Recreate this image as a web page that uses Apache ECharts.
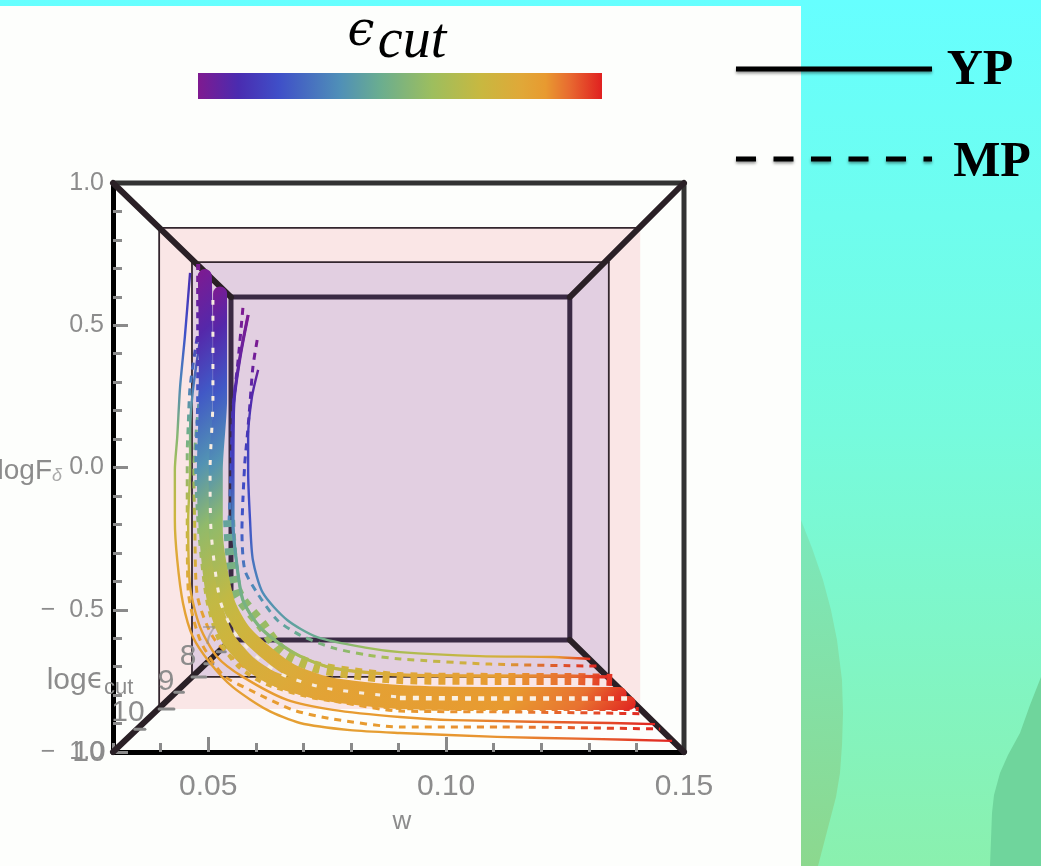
<!DOCTYPE html>
<html><head><meta charset="utf-8">
<style>html,body{margin:0;padding:0;background:#fff}#c{width:1041px;height:866px}</style>
<script src="https://cdn.jsdelivr.net/npm/echarts@6/dist/echarts.min.js"></script>
</head><body><div id="c"></div>
<script>
// Colour scale of the epsilon_cut legend: [position, colour]
const epsScale = [[0,'#7f1a90'],[0.1,'#4a2cb0'],[0.2,'#3f4fc8'],[0.35,'#4f8fb8'],[0.45,'#6aad90'],[0.58,'#9dbe5e'],[0.7,'#c8b840'],[0.8,'#e0a838'],[0.86,'#e89a30'],[0.92,'#e86a30'],[1,'#e02020']];

// Box edges [w1, logF1, w2, logF2]
const frontEdges = [[0.03,1,0.15,1],[0.15,1,0.15,-1]];
const diagonalEdges = [[0.03,1,0.0548,0.599],[0.15,1,0.126,0.599],[0.03,-1,0.0548,-0.606],[0.15,-1,0.126,-0.606]];
const backEdges = [[0.0548,0.599,0.126,0.599],[0.126,0.599,0.126,-0.606],[0.126,-0.606,0.0548,-0.606],[0.0548,-0.606,0.0548,0.599]];
const thinEdges = [[0.0397,0.842,0.1408,0.842],[0.0397,0.842,0.0397,-0.849],[0.0466,0.722,0.1342,0.722],[0.1342,0.722,0.1342,-0.736],[0.1342,-0.736,0.0466,-0.736],[0.0466,-0.736,0.0466,0.722]];
const epsTicks = [[0.0346,-0.92,0.0367,-0.92],[0.0397,-0.849,0.0428,-0.849],[0.043,-0.79,0.0448,-0.79],[0.0466,-0.736,0.0495,-0.736],[0.0493,-0.69,0.051,-0.69],[0.0519,-0.648,0.0536,-0.648]];
const pinkFace = [[0.0397,0.842,0.1408,-0.849]];
const mauveFace = [[0.0466,0.722,0.1342,-0.736]];

// Curves: [w, logF, epsilon position on the legend]
const yp1 = [[0.0605,0.343,0.03],[0.0592,0.248,0.08],[0.0584,0.107,0.15],[0.0584,-0.009,0.17],[0.0588,-0.185,0.2],[0.0594,-0.325,0.28],[0.0615,-0.441,0.34],[0.0666,-0.536,0.4],[0.0729,-0.596,0.45],[0.0834,-0.634,0.58],[0.0903,-0.649,0.62],[0.1071,-0.663,0.72],[0.1225,-0.666,0.86],[0.1303,-0.673,1]];
const mp1 = [[0.0603,0.448,0],[0.0594,0.353,0.03],[0.0588,0.227,0.08],[0.0582,0.107,0.13],[0.0577,0.016,0.17],[0.0573,-0.114,0.2],[0.0571,-0.22,0.22],[0.0577,-0.36,0.3],[0.0603,-0.441,0.35],[0.0645,-0.536,0.4],[0.0693,-0.589,0.45],[0.0762,-0.634,0.52],[0.0834,-0.659,0.58],[0.0903,-0.673,0.64],[0.1092,-0.691,0.78],[0.1317,-0.698,1]];
const mp2 = [[0.0573,0.561,0],[0.0563,0.378,0.05],[0.0552,0.202,0.12],[0.0548,-0.009,0.2],[0.0544,-0.185,0.34]];
const yp2 = [[0.0584,0.536,0],[0.0567,0.388,0.04],[0.0554,0.227,0.1],[0.0552,-0.009,0.16],[0.0552,-0.185,0.32],[0.0559,-0.325,0.42],[0.0573,-0.466,0.48],[0.0605,-0.554,0.5],[0.0645,-0.613,0.52],[0.0693,-0.663,0.6],[0.0762,-0.705,0.68],[0.0903,-0.729,0.8],[0.1113,-0.733,0.85],[0.126,-0.733,0.92],[0.134,-0.736,1]];
const ladder = [[0.0544,-0.185,0.4],[0.0559,-0.431,0.5],[0.0613,-0.554,0.56],[0.0657,-0.649,0.6],[0.0727,-0.701,0.68],[0.0798,-0.722,0.74],[0.0903,-0.74,0.8],[0.1113,-0.743,0.86],[0.126,-0.743,0.92],[0.1349,-0.747,1]];
const massInner = [[0.0525,0.612,0],[0.0525,0.448,0.08],[0.0525,0.237,0.22],[0.0516,-0.009,0.36],[0.0516,-0.22,0.55],[0.054,-0.466,0.68],[0.0573,-0.571,0.72],[0.0626,-0.656,0.76],[0.0676,-0.715,0.78],[0.0754,-0.761,0.82],[0.0903,-0.789,0.84],[0.1113,-0.796,0.86],[0.126,-0.796,0.91],[0.1365,-0.796,1]];
const massOuter = [[0.0493,0.673,0],[0.0495,0.448,0.08],[0.0495,0.237,0.22],[0.0491,-0.009,0.36],[0.0495,-0.22,0.55],[0.0512,-0.466,0.68],[0.054,-0.596,0.72],[0.0586,-0.687,0.76],[0.064,-0.744,0.78],[0.0737,-0.793,0.82],[0.0903,-0.824,0.84],[0.1113,-0.828,0.86],[0.126,-0.828,0.91],[0.1384,-0.828,1]];
const massEdge = [[0.0479,0.715,0],[0.0479,0.448,0.08],[0.0479,0.237,0.22],[0.0475,-0.009,0.36],[0.0481,-0.22,0.55],[0.0498,-0.466,0.68],[0.0523,-0.606,0.72],[0.0565,-0.701,0.76],[0.0622,-0.761,0.78],[0.0727,-0.81,0.82],[0.0903,-0.845,0.84],[0.1113,-0.849,0.86],[0.126,-0.849,0.91],[0.1405,-0.849,1]];
const seamBend = [[0.051,0.589,0],[0.051,0.237,0],[0.0504,-0.009,0],[0.0506,-0.22,0],[0.0525,-0.466,0],[0.0556,-0.582,0],[0.0605,-0.67,0],[0.0657,-0.729,0],[0.0746,-0.775,0],[0.0903,-0.807,0]];
const seamFlat = [[0.0903,-0.81,0],[0.1113,-0.812,0],[0.126,-0.812,0],[0.1387,-0.812,0]];
const yp3 = [[0.0483,0.448,0.12],[0.0468,0.272,0.3],[0.0462,0.132,0.45],[0.0462,-0.009,0.58],[0.0458,-0.185,0.68],[0.0462,-0.42,0.8],[0.0483,-0.561,0.84],[0.0519,-0.666,0.85],[0.0573,-0.736,0.85],[0.0666,-0.817,0.85],[0.0762,-0.852,0.85],[0.0903,-0.877,0.86],[0.1015,-0.888,0.87],[0.1345,-0.898,0.96],[0.1439,-0.902,1]];
const mp3 = [[0.0477,0.459,0.12],[0.0462,0.283,0.3],[0.0458,0.142,0.44],[0.0456,0.051,0.5],[0.0456,-0.185,0.68],[0.0458,-0.431,0.8],[0.0483,-0.606,0.84],[0.0531,-0.729,0.85],[0.0588,-0.782,0.85],[0.0678,-0.852,0.85],[0.0762,-0.884,0.85],[0.0903,-0.912,0.86],[0.1113,-0.912,0.88],[0.145,-0.919,1]];
const mp4 = [[0.0489,0.36,0.2],[0.0477,0.167,0.42],[0.047,-0.009,0.55],[0.0472,-0.22,0.7],[0.0477,-0.448,0.82],[0.051,-0.596,0.84],[0.0567,-0.691,0.85],[0.0651,-0.772,0.85],[0.0777,-0.824,0.85],[0.0903,-0.856,0.86],[0.1113,-0.859,0.88],[0.1324,-0.863,0.96],[0.1418,-0.866,1]];
const yp4 = [[0.0462,0.684,0.1],[0.0451,0.459,0.2],[0.0441,0.283,0.33],[0.0435,0.107,0.52],[0.043,-0.009,0.6],[0.043,-0.185,0.72],[0.0435,-0.325,0.8],[0.0447,-0.476,0.82],[0.0468,-0.596,0.84],[0.0504,-0.687,0.84],[0.0552,-0.772,0.84],[0.0624,-0.852,0.84],[0.0693,-0.898,0.84],[0.0798,-0.923,0.84],[0.0903,-0.933,0.85],[0.1107,-0.947,0.87],[0.1303,-0.954,0.93],[0.1475,-0.961,1]];

const solidThin = [yp1, yp2, yp3, yp4];
const dashedThin = [mp1, mp2, mp3, mp4];

// Ticks and tick labels
const wLabels = [0.05, 0.10, 0.15];
const logFLabels = [-1, -0.5, 0, 0.5, 1];
const epsAxisLabels = ['7','8','9','10','10'];

const GRID = {left:113, top:183, right:357, bottom:114, width:571, height:569};
const W = {min:0.03, max:0.15}, F = {min:-1, max:1};
const pxW = GRID.width/(W.max-W.min), pxF = GRID.height/(F.max-F.min);

function hex(c){return [1,3,5].map(i=>parseInt(c.substr(i,2),16));}
function colorAt(t){
  for(let i=1;i<epsScale.length;i++){
    if(t<=epsScale[i][0]){
      const a=epsScale[i-1],b=epsScale[i],k=(t-a[0])/(b[0]-a[0]);
      const ca=hex(a[1]),cb=hex(b[1]);
      return 'rgb('+ca.map((v,j)=>Math.round(v+(cb[j]-v)*k)).join(',')+')';
    }
  }
  return epsScale[epsScale.length-1][1];
}
function curveSeries(points,width,dash,fixedColor,z,cap){
  const ws=points.map(p=>p[0]),fs=points.map(p=>p[1]);
  const x0=Math.min(...ws),x1=Math.max(...ws),y1=Math.max(...fs),y0=Math.min(...fs);
  const bw=(x1-x0)*pxW,bh=(y1-y0)*pxF;
  const stops=points.map(p=>{
    const dx=(p[0]-x0)*pxW,dy=(y1-p[1])*pxF;
    return {offset:Math.min(1,Math.max(0,(dx*bw+dy*bh)/(bw*bw+bh*bh))),color:colorAt(p[2])};
  }).sort((a,b)=>a.offset-b.offset);
  return {type:'line',data:points.map(p=>[p[0],p[1]]),showSymbol:false,symbol:'none',smooth:0.25,clip:false,silent:true,z:z||5,
    lineStyle:{width:width,type:dash||'solid',cap:cap||'butt',join:'round',
      color:fixedColor||{type:'linear',x:0,y:0,x2:1,y2:1,colorStops:stops}}};
}
function edgeSeries(list,width,color,z){
  return {type:'custom',coordinateSystem:'cartesian2d',data:list,silent:true,z:z||3,clip:false,
    renderItem:(p,api)=>{
      const a=api.coord([api.value(0),api.value(1)]),b=api.coord([api.value(2),api.value(3)]);
      return {type:'line',shape:{x1:a[0],y1:a[1],x2:b[0],y2:b[1]},style:{stroke:color,lineWidth:width,lineCap:'round'}};
    }};
}
function faceSeries(list,fill,z){
  return {type:'custom',coordinateSystem:'cartesian2d',data:list,silent:true,z:z,clip:false,
    renderItem:(p,api)=>{
      const a=api.coord([api.value(0),api.value(1)]),b=api.coord([api.value(2),api.value(3)]);
      return {type:'rect',shape:{x:a[0],y:a[1],width:b[0]-a[0],height:b[1]-a[1]},style:{fill:fill}};
    }};
}
const series=[
  faceSeries(pinkFace,'#fae6e6',1),
  faceSeries(mauveFace,'#e2cfe1',2),
  edgeSeries(thinEdges,1.8,'#33262e',3),
  edgeSeries(frontEdges,5,'#333333',3),
  edgeSeries(backEdges,5,'#3a2a44',3),
  edgeSeries(diagonalEdges,6,'#2a2026',3),
  edgeSeries(epsTicks,3,'#8a8a8a',3)
];
solidThin.forEach(c=>series.push(curveSeries(c,2.4)));
dashedThin.forEach(c=>series.push(curveSeries(c,3,[7,6])));
series.push(curveSeries(ladder,12,[7,7]));
series.push(curveSeries(yp2,3.2));
series.push(curveSeries(massEdge,4,[6,6]));
series.push(curveSeries(massOuter,14,null,null,5,'round'));
series.push(curveSeries(massInner,14,null,null,5,'round'));
series.push(curveSeries(seamBend,3,[5,11],'#f7ecdf',6));
series.push(curveSeries(seamFlat,4.5,[6,7],'#fbf1e4',6));

const grey='#8c8c8c', font='Liberation Sans';
const text=(x,y,t,size,extra)=>Object.assign({type:'text',x:x,y:y,z:20,silent:true,
  style:Object.assign({text:t,fill:grey,font:size+'px "'+font+'"',textAlign:'center',textVerticalAlign:'middle'},extra||{})});

const graphic=[
  {type:'rect',z:-10,silent:true,shape:{x:0,y:0,width:1041,height:866},
    style:{fill:{type:'linear',x:0,y:0,x2:0,y2:1,colorStops:[{offset:0,color:'#66ffff'},{offset:0.5,color:'#76fbdd'},{offset:1,color:'#8af0ae'}]}}},
  {type:'polygon',z:-9,silent:true,shape:{points:[[801,520],[812,548],[823,580],[831,610],[837,640],[842,680],[843,713],[842,745],[840,773],[836,797],[830,820],[818,866],[801,866]]},
    style:{fill:{type:'linear',x:0,y:0,x2:0,y2:1,colorStops:[{offset:0,color:'#7be8bc'},{offset:1,color:'#8cd88e'}]}}},
  {type:'polygon',z:-9,silent:true,shape:{points:[[1041,677],[1030,705],[1020,733],[1008,755],[1000,773],[994,795],[992,813],[990,866],[1041,866]]},
    style:{fill:'#6fd59c'}},
  {type:'rect',z:-8,silent:true,shape:{x:0,y:6,width:801,height:860},style:{fill:'#fdfefc'}},
  // colour legend
  text(361,33,'ϵ',48,{fill:'#000',font:'italic 48px "DejaVu Serif"'}),
  text(412,42,'cut',56,{fill:'#000',font:'italic 56px "Liberation Serif"'}),
  {type:'rect',z:20,silent:true,shape:{x:198,y:73,width:404,height:26},
    style:{fill:{type:'linear',x:0,y:0,x2:1,y2:0,colorStops:epsScale.map(s=>({offset:s[0],color:s[1]}))}}},
  // line-style legend
  {type:'line',z:20,silent:true,shape:{x1:736,y1:69,x2:932,y2:69},style:{stroke:'#000',lineWidth:5,shadowBlur:3,shadowColor:'rgba(0,0,0,0.4)',shadowOffsetY:2}},
  {type:'line',z:20,silent:true,shape:{x1:736,y1:159,x2:932,y2:159},style:{stroke:'#000',lineWidth:5,lineDash:[20,17.5],shadowBlur:3,shadowColor:'rgba(0,0,0,0.4)',shadowOffsetY:2}},
  text(980,71,'YP',50,{fill:'#000',font:'bold 50px "Liberation Serif"'}),
  text(992,163,'MP',50,{fill:'#000',font:'bold 50px "Liberation Serif"'}),
  // axis names and the depth-axis labels
  text(402,822,'w',26),
  text(209,637,epsAxisLabels[0],26,{opacity:0.55}),
  text(188,657,epsAxisLabels[1],30),
  text(166,682,epsAxisLabels[2],30),
  text(128,713,epsAxisLabels[3],30),
  text(89,753,epsAxisLabels[4],30),
  {type:'text',z:20,silent:true,x:90,y:681,style:{rich:{a:{font:'30px "Liberation Sans"',fill:grey},e:{font:'28px "DejaVu Sans"',fill:grey},s:{font:'22px "Liberation Sans"',fill:grey,padding:[14,0,0,0]}},text:'{a|log}{e|ϵ}{s|cut}',align:'center',verticalAlign:'middle'}},
  {type:'text',z:20,silent:true,x:62,y:471,style:{rich:{a:{font:'28px "Liberation Sans"',fill:grey},s:{font:'italic 18px "Liberation Sans"',fill:'#aaaaaa',padding:[10,0,0,0]}},text:'{a|logF}{s|δ}',align:'right',verticalAlign:'middle'}}
];

const tickStyle={show:true,inside:true,length:9,lineStyle:{color:'#8a8a8a',width:3}};
const option={
  animation:false,
  backgroundColor:'#fff',
  grid:{left:GRID.left,top:GRID.top,right:GRID.right,bottom:GRID.bottom,containLabel:false},
  xAxis:[
    {type:'value',position:'bottom',min:W.min,max:W.max,interval:0.01,splitLine:{show:false},axisLabel:{show:false},
      axisLine:{onZero:false,lineStyle:{color:'#000',width:5}},axisTick:tickStyle},
    {type:'value',position:'bottom',min:W.min,max:W.max,splitLine:{show:false},
      axisLine:{show:false,onZero:false},
      axisTick:{show:true,inside:true,length:15,customValues:wLabels,lineStyle:{color:'#8a8a8a',width:3}},
      axisLabel:{show:true,customValues:wLabels,margin:20,color:grey,fontFamily:font,fontSize:30,formatter:v=>v.toFixed(2),showMinLabel:true,showMaxLabel:true}}
  ],
  yAxis:[
    {type:'value',position:'left',min:F.min,max:F.max,interval:0.1,splitLine:{show:false},axisLabel:{show:false},
      axisLine:{onZero:false,lineStyle:{color:'#000',width:5}},axisTick:tickStyle},
    {type:'value',position:'left',min:F.min,max:F.max,splitLine:{show:false},
      axisLine:{show:false,onZero:false},
      axisTick:{show:true,inside:true,length:15,customValues:logFLabels,lineStyle:{color:'#8a8a8a',width:3}},
      axisLabel:{show:true,customValues:logFLabels,margin:9,color:grey,fontFamily:font,fontSize:25,formatter:v=>(v<0?'−  ':'')+Math.abs(v).toFixed(1),showMinLabel:true,showMaxLabel:true}}
  ],
  series:series,
  graphic:graphic
};
const chart=echarts.init(document.getElementById('c'),null,{renderer:'canvas',width:1041,height:866});
chart.setOption(option);
</script></body></html>
